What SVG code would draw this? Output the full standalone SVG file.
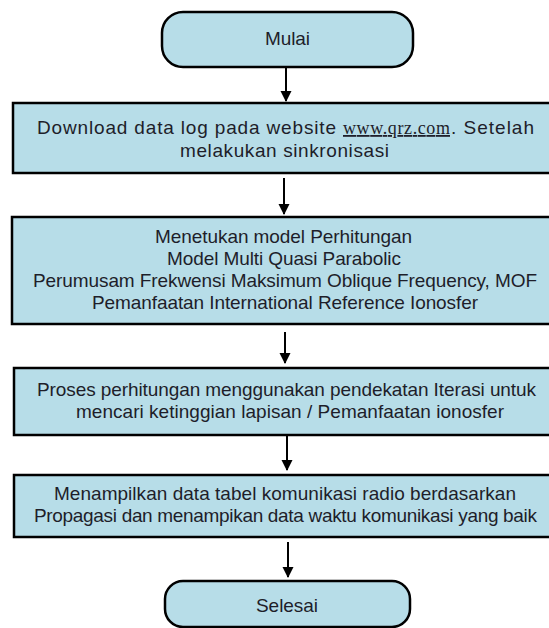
<svg xmlns="http://www.w3.org/2000/svg" width="549" height="628" viewBox="0 0 549 628">
<style>
.box{fill:#b7dde8;stroke:#000;stroke-width:2.5}
.t{font-family:"Liberation Sans",Arial,sans-serif;font-size:19px;fill:#1e1e2a;text-anchor:middle}
.url{font-family:"Liberation Serif","Times New Roman",serif;font-size:18px;fill:#1e1e2a;text-decoration:underline}
.edge{stroke:#000;stroke-width:2;fill:none;marker-end:url(#ah)}
</style>
<defs>
<marker id="ah" markerWidth="11" markerHeight="12" refX="10" refY="5.5" orient="auto" markerUnits="userSpaceOnUse" viewBox="0 0 11 12">
<path d="M0,0 L11,5.5 L0,11 Z" fill="#000"/>
</marker>
</defs>
<rect width="549" height="628" fill="#fff"/>
<g id="connectors">
<line class="edge" x1="286" y1="67" x2="286" y2="101"/>
<line class="edge" x1="284" y1="178" x2="284" y2="214"/>
<line class="edge" x1="285" y1="332" x2="285" y2="363"/>
<line class="edge" x1="287" y1="436" x2="287" y2="470"/>
<line class="edge" x1="288" y1="542" x2="288" y2="577"/>
</g>
<g id="mulai">
<rect class="box" x="162" y="12" width="251" height="55" rx="21"/>
<text class="t" x="287.5" y="45" textLength="45">Mulai</text>
</g>
<g id="download">
<rect class="box" x="13" y="103" width="538" height="70"/>
<text class="t" style="text-anchor:start" y="134"><tspan x="37" textLength="299">Download data log pada website</tspan><tspan class="url" x="343" textLength="107">www.qrz.com</tspan><tspan x="451" textLength="83">. Setelah</tspan></text>
<text class="t" x="284.5" y="157" textLength="209">melakukan sinkronisasi</text>
</g>
<g id="model">
<rect class="box" x="12" y="217" width="539" height="107"/>
<text class="t" x="283.5" y="243" textLength="257">Menetukan model Perhitungan</text>
<text class="t" x="284" y="265" textLength="234">Model Multi Quasi Parabolic</text>
<text class="t" x="285" y="287" textLength="504">Perumusam Frekwensi Maksimum Oblique Frequency, MOF</text>
<text class="t" x="285" y="309" textLength="386">Pemanfaatan International Reference Ionosfer</text>
</g>
<g id="proses">
<rect class="box" x="14" y="368" width="537" height="67"/>
<text class="t" x="286.5" y="396" textLength="499">Proses perhitungan menggunakan pendekatan Iterasi untuk</text>
<text class="t" x="290" y="418" textLength="428">mencari ketinggian lapisan / Pemanfaatan ionosfer</text>
</g>
<g id="tampil">
<rect class="box" x="14" y="475" width="537" height="62"/>
<text class="t" x="285" y="500" textLength="462">Menampilkan data tabel komunikasi radio berdasarkan</text>
<text class="t" x="285.5" y="522" textLength="503">Propagasi dan menampikan data waktu komunikasi yang baik</text>
</g>
<g id="selesai">
<rect class="box" x="165" y="581" width="245" height="46" rx="18"/>
<text class="t" x="287" y="612" textLength="62">Selesai</text>
</g>
</svg>
